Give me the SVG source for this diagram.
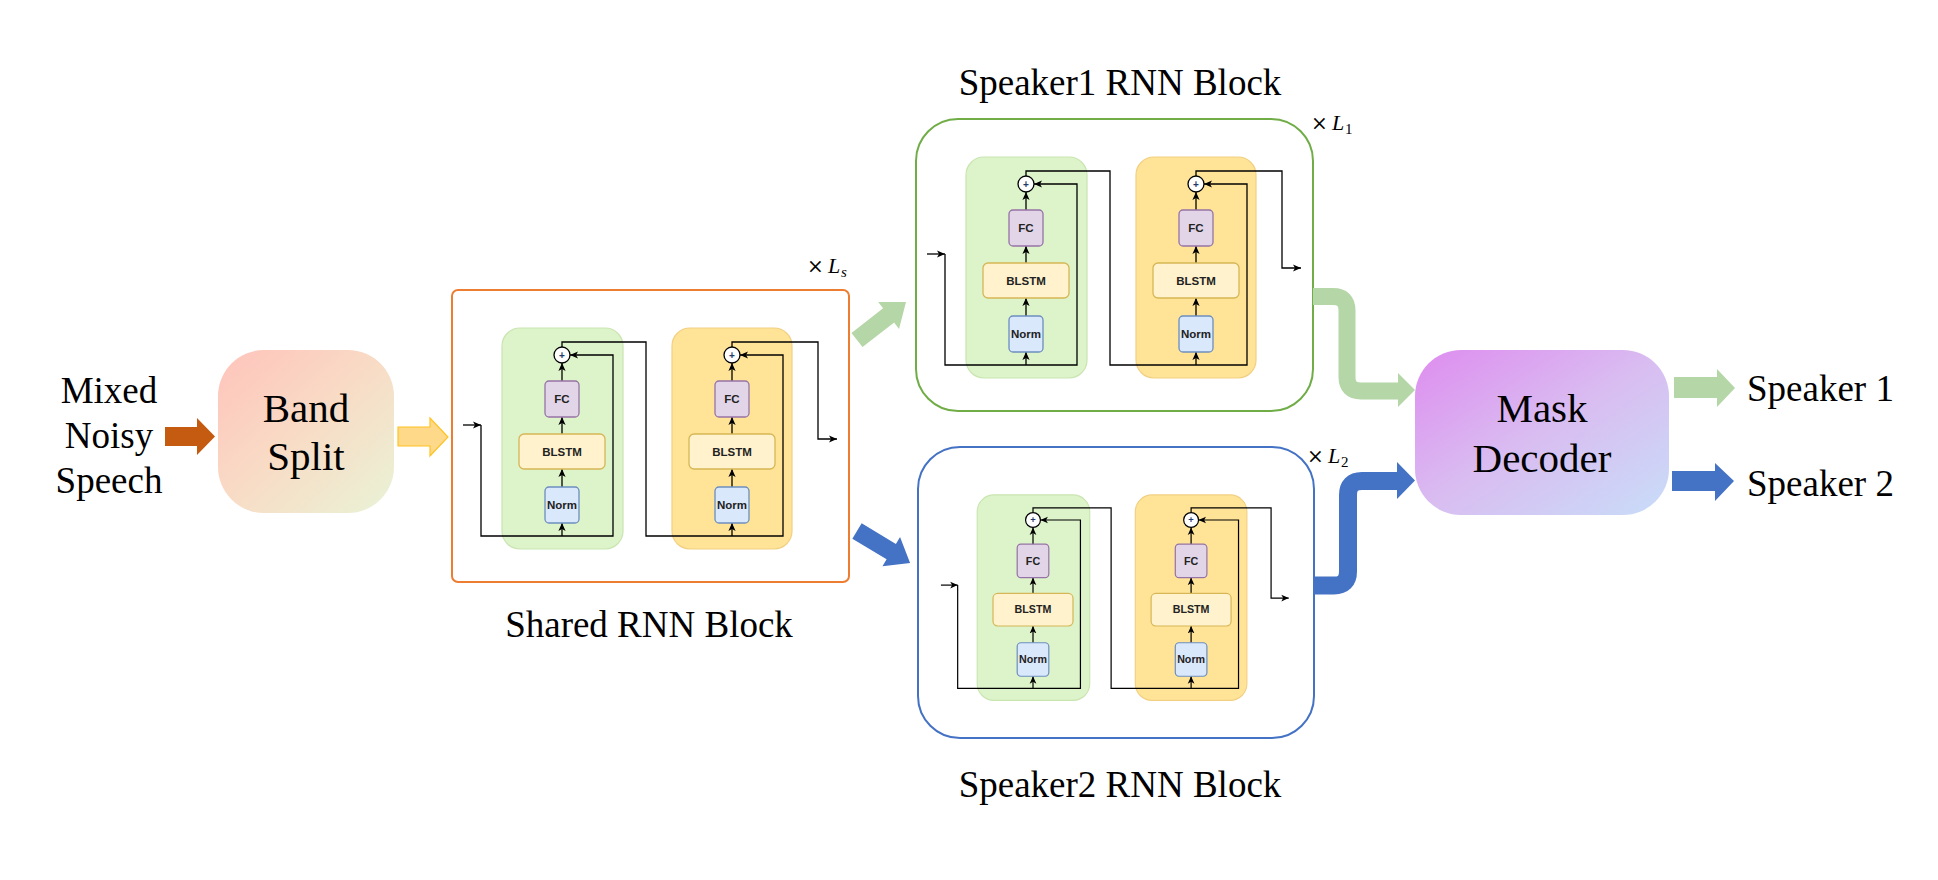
<svg xmlns="http://www.w3.org/2000/svg" width="1938" height="880" viewBox="0 0 1938 880">
<style>
.serif{font-family:"Liberation Serif","Times New Roman",serif;fill:#000}
.sm{font-family:"Liberation Sans",Arial,sans-serif;font-weight:bold;font-size:11.5px;fill:#222;text-anchor:middle}
.pl{font-family:"Liberation Sans",Arial,sans-serif;font-weight:bold;font-size:10px;fill:#1F3A6B;text-anchor:middle}
.pg{fill:#DDF3CA;stroke:#C9E5B0;stroke-width:1.2}
.po{fill:#FFE497;stroke:#F2CF82;stroke-width:1.2}
.fc{fill:#E1D5E7;stroke:#9673A6;stroke-width:1.3}
.bl{fill:#FFF2CC;stroke:#D6B656;stroke-width:1.3}
.nm{fill:#DAE8FC;stroke:#6C8EBF;stroke-width:1.3}
.ln{fill:none;stroke:#000;stroke-width:1.3}
.ar{marker-end:url(#ah)}
.cir{fill:#fff;stroke:#000;stroke-width:1.3}
.mul{font-family:"DejaVu Serif","Liberation Serif",serif;font-size:20px;fill:#000}
.Lv{font-family:"Liberation Serif","Times New Roman",serif;font-style:italic;font-size:22px;fill:#000}
.sub{font-family:"Liberation Serif","Times New Roman",serif;font-size:15px;fill:#000}
</style>
<defs>
<marker id="ah" viewBox="0 0 10 10" refX="10" refY="5" markerWidth="8" markerHeight="8" markerUnits="userSpaceOnUse" orient="auto">
<path d="M0,0.5 L10,5 L0,9.5 L2.5,5 z" fill="#000"/>
</marker>
<linearGradient id="gBand" x1="0" y1="0" x2="1" y2="1">
<stop offset="0" stop-color="#FFC3BB"/>
<stop offset="0.5" stop-color="#F8DCC6"/>
<stop offset="1" stop-color="#E9F3D6"/>
</linearGradient>
<linearGradient id="gMask" x1="0" y1="0" x2="1" y2="1">
<stop offset="0" stop-color="#DE8CEF"/>
<stop offset="0.5" stop-color="#D9BDF1"/>
<stop offset="1" stop-color="#C8DDF8"/>
</linearGradient>
</defs>
<rect width="1938" height="880" fill="#fff"/>

<!-- Input -->
<g id="input-label">
<text class="serif" font-size="37" text-anchor="middle" x="109" y="403">Mixed</text>
<text class="serif" font-size="37" text-anchor="middle" x="109" y="448">Noisy</text>
<text class="serif" font-size="37" text-anchor="middle" x="109" y="493">Speech</text>
</g>

<g id="band-split">
<rect x="218" y="350" width="176" height="163" rx="46" fill="url(#gBand)"/>
<text class="serif" font-size="41" text-anchor="middle" x="306" y="422">Band</text>
<text class="serif" font-size="41" text-anchor="middle" x="306" y="470">Split</text>
</g>

<!-- Block frames -->
<g id="shared-block-frame">
<rect x="452" y="290" width="397" height="292" rx="6" fill="#fff" stroke="#ED7D31" stroke-width="2"/>
<text class="mul" x="807" y="273">×</text>
<text class="Lv" x="828" y="273">L</text>
<text class="sub" font-style="italic" x="841" y="277">s</text>
<text class="serif" font-size="37" text-anchor="middle" x="649" y="637">Shared RNN Block</text>
</g>

<g id="speaker1-block-frame">
<rect x="916" y="119" width="397" height="292" rx="42" fill="#fff" stroke="#70AD47" stroke-width="2"/>
<text class="mul" x="1311" y="130">×</text>
<text class="Lv" x="1332" y="130">L</text>
<text class="sub" x="1345" y="134">1</text>
<text class="serif" font-size="37" text-anchor="middle" x="1120" y="95">Speaker1 RNN Block</text>
</g>

<g id="speaker2-block-frame">
<rect x="918" y="447" width="396" height="291" rx="42" fill="#fff" stroke="#4472C4" stroke-width="2"/>
<text class="mul" x="1307" y="463">×</text>
<text class="Lv" x="1328" y="463">L</text>
<text class="sub" x="1341" y="467">2</text>
<text class="serif" font-size="37" text-anchor="middle" x="1120" y="797">Speaker2 RNN Block</text>
</g>

<!-- Shared block inner -->
<g id="shared-inner">
<g id="s-panels"><rect class="pg" x="502" y="328" width="121" height="221" rx="18"/><rect class="po" x="672" y="328" width="120" height="221" rx="18"/></g>
<g id="s-connectors">
<path class="ln ar" d="M463,425 H481"/>
<path class="ln ar" d="M481,425 V536 H613 V355 H570"/>
<path class="ln ar" d="M562,536 V523"/>
<path class="ln ar" d="M562,487 V469"/>
<path class="ln ar" d="M562,434 V417"/>
<path class="ln ar" d="M562,381 V363"/>
<path class="ln ar" d="M562,347 V342 H646 V536 H783 V355 H740"/>
<path class="ln ar" d="M732,536 V523"/>
<path class="ln ar" d="M732,487 V469"/>
<path class="ln ar" d="M732,434 V417"/>
<path class="ln ar" d="M732,381 V363"/>
<path class="ln ar" d="M732,347 V342 H818 V439 H837"/>
</g>
<g id="s-norm1"><rect class="nm" x="545" y="487" width="34" height="36" rx="4"/><text class="sm" x="562" y="509">Norm</text></g>
<g id="s-blstm1"><rect class="bl" x="519" y="434" width="86" height="35" rx="5"/><text class="sm" x="562" y="455.5">BLSTM</text></g>
<g id="s-fc1"><rect class="fc" x="545" y="381" width="34" height="36" rx="4"/><text class="sm" x="562" y="403">FC</text></g>
<g id="s-add1"><circle class="cir" cx="562" cy="355" r="8"/><text class="pl" x="562" y="358.5">+</text></g>
<g id="s-norm2"><rect class="nm" x="715" y="487" width="34" height="36" rx="4"/><text class="sm" x="732" y="509">Norm</text></g>
<g id="s-blstm2"><rect class="bl" x="689" y="434" width="86" height="35" rx="5"/><text class="sm" x="732" y="455.5">BLSTM</text></g>
<g id="s-fc2"><rect class="fc" x="715" y="381" width="34" height="36" rx="4"/><text class="sm" x="732" y="403">FC</text></g>
<g id="s-add2"><circle class="cir" cx="732" cy="355" r="8"/><text class="pl" x="732" y="358.5">+</text></g>
</g>

<!-- Speaker1 inner -->
<g id="speaker1-inner" transform="translate(464,-171)">
<g id="a-panels"><rect class="pg" x="502" y="328" width="121" height="221" rx="18"/><rect class="po" x="672" y="328" width="120" height="221" rx="18"/></g>
<g id="a-connectors">
<path class="ln ar" d="M463,425 H481"/>
<path class="ln ar" d="M481,425 V536 H613 V355 H570"/>
<path class="ln ar" d="M562,536 V523"/>
<path class="ln ar" d="M562,487 V469"/>
<path class="ln ar" d="M562,434 V417"/>
<path class="ln ar" d="M562,381 V363"/>
<path class="ln ar" d="M562,347 V342 H646 V536 H783 V355 H740"/>
<path class="ln ar" d="M732,536 V523"/>
<path class="ln ar" d="M732,487 V469"/>
<path class="ln ar" d="M732,434 V417"/>
<path class="ln ar" d="M732,381 V363"/>
<path class="ln ar" d="M732,347 V342 H818 V439 H837"/>
</g>
<g id="a-norm1"><rect class="nm" x="545" y="487" width="34" height="36" rx="4"/><text class="sm" x="562" y="509">Norm</text></g>
<g id="a-blstm1"><rect class="bl" x="519" y="434" width="86" height="35" rx="5"/><text class="sm" x="562" y="455.5">BLSTM</text></g>
<g id="a-fc1"><rect class="fc" x="545" y="381" width="34" height="36" rx="4"/><text class="sm" x="562" y="403">FC</text></g>
<g id="a-add1"><circle class="cir" cx="562" cy="355" r="8"/><text class="pl" x="562" y="358.5">+</text></g>
<g id="a-norm2"><rect class="nm" x="715" y="487" width="34" height="36" rx="4"/><text class="sm" x="732" y="509">Norm</text></g>
<g id="a-blstm2"><rect class="bl" x="689" y="434" width="86" height="35" rx="5"/><text class="sm" x="732" y="455.5">BLSTM</text></g>
<g id="a-fc2"><rect class="fc" x="715" y="381" width="34" height="36" rx="4"/><text class="sm" x="732" y="403">FC</text></g>
<g id="a-add2"><circle class="cir" cx="732" cy="355" r="8"/><text class="pl" x="732" y="358.5">+</text></g>
</g>

<!-- Speaker2 inner -->
<g id="speaker2-inner" transform="translate(510.34,189.85) scale(0.93)">
<g id="b-panels"><rect class="pg" x="502" y="328" width="121" height="221" rx="18"/><rect class="po" x="672" y="328" width="120" height="221" rx="18"/></g>
<g id="b-connectors">
<path class="ln ar" d="M463,425 H481"/>
<path class="ln ar" d="M481,425 V536 H613 V355 H570"/>
<path class="ln ar" d="M562,536 V523"/>
<path class="ln ar" d="M562,487 V469"/>
<path class="ln ar" d="M562,434 V417"/>
<path class="ln ar" d="M562,381 V363"/>
<path class="ln ar" d="M562,347 V342 H646 V536 H783 V355 H740"/>
<path class="ln ar" d="M732,536 V523"/>
<path class="ln ar" d="M732,487 V469"/>
<path class="ln ar" d="M732,434 V417"/>
<path class="ln ar" d="M732,381 V363"/>
<path class="ln ar" d="M732,347 V342 H818 V439 H837"/>
</g>
<g id="b-norm1"><rect class="nm" x="545" y="487" width="34" height="36" rx="4"/><text class="sm" x="562" y="509">Norm</text></g>
<g id="b-blstm1"><rect class="bl" x="519" y="434" width="86" height="35" rx="5"/><text class="sm" x="562" y="455.5">BLSTM</text></g>
<g id="b-fc1"><rect class="fc" x="545" y="381" width="34" height="36" rx="4"/><text class="sm" x="562" y="403">FC</text></g>
<g id="b-add1"><circle class="cir" cx="562" cy="355" r="8"/><text class="pl" x="562" y="358.5">+</text></g>
<g id="b-norm2"><rect class="nm" x="715" y="487" width="34" height="36" rx="4"/><text class="sm" x="732" y="509">Norm</text></g>
<g id="b-blstm2"><rect class="bl" x="689" y="434" width="86" height="35" rx="5"/><text class="sm" x="732" y="455.5">BLSTM</text></g>
<g id="b-fc2"><rect class="fc" x="715" y="381" width="34" height="36" rx="4"/><text class="sm" x="732" y="403">FC</text></g>
<g id="b-add2"><circle class="cir" cx="732" cy="355" r="8"/><text class="pl" x="732" y="358.5">+</text></g>
</g>

<!-- Mask decoder -->
<g id="mask-decoder">
<rect x="1415" y="350" width="254" height="165" rx="46" fill="url(#gMask)"/>
<text class="serif" font-size="41" text-anchor="middle" x="1542" y="422">Mask</text>
<text class="serif" font-size="41" text-anchor="middle" x="1542" y="472">Decoder</text>
</g>

<g id="outputs">
<text class="serif" font-size="37" x="1747" y="401">Speaker 1</text>
<text class="serif" font-size="37" x="1747" y="496">Speaker 2</text>
</g>

<!-- Big connectors -->
<g id="connectors">
<polygon points="165,427 197,427 197,418 215,436.5 197,455 197,446 165,446" fill="#C55A11"/>
<polygon points="398,427 430,427 430,418 448,437 430,456 430,446 398,446" fill="#FFD98A" stroke="#FFC21F" stroke-width="1.2"/>
<polygon points="0,-9 40,-9 40,-17 62,0 40,17 40,9 0,9" fill="#B5D6A6" transform="translate(857,340) rotate(-37.8)"/>
<polygon points="0,-9 40,-9 40,-17 62,0 40,17 40,9 0,9" fill="#4472C4" transform="translate(857,531) rotate(31.1)"/>
<path d="M1313,296.5 H1333 Q1347,296.5 1347,310.5 V377 Q1347,391 1361,391 H1400" fill="none" stroke="#B5D6A6" stroke-width="17"/>
<polygon points="1398,373 1415,390 1398,407" fill="#B5D6A6"/>
<path d="M1314,585.5 H1334 Q1348,585.5 1348,571.5 V495 Q1348,481 1362,481 H1399" fill="none" stroke="#4472C4" stroke-width="18"/>
<polygon points="1397,462 1415,480.5 1397,499" fill="#4472C4"/>
<polygon points="1674,377 1717,377 1717,369 1735,388 1717,407 1717,398 1674,398" fill="#B5D6A6"/>
<polygon points="1672,471 1715,471 1715,463 1734,481 1715,501 1715,491 1672,491" fill="#4472C4"/>
</g>
</svg>
